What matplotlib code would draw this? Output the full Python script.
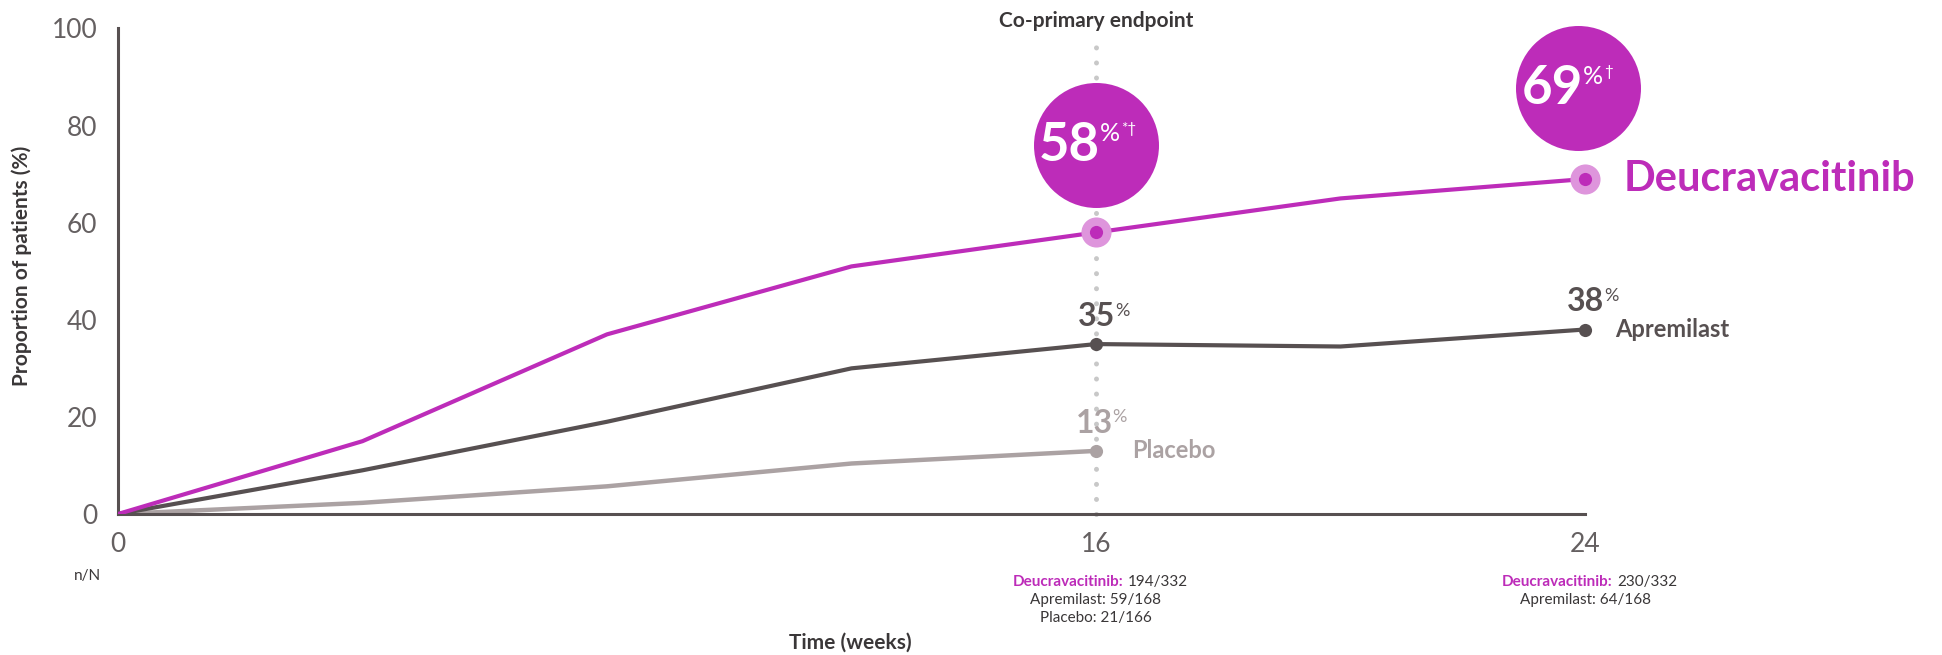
import matplotlib.pyplot as plt

plt.rcParams['font.family'] = ['Lato', 'DejaVu Sans']

# --- data ---
weeks = [0, 4, 8, 12, 16, 20, 24]
deucravacitinib = [0, 15, 37, 51, 58, 65, 69]
apremilast = [0, 9, 19, 30, 35, 34.5, 38]
placebo_weeks = [0, 4, 8, 12, 16]
placebo = [0, 2.3, 5.7, 10.4, 13]

x_ticks = [0, 16, 24]
y_ticks = [0, 20, 40, 60, 80, 100]

nn_week16 = ['194/332', 'Apremilast: 59/168', 'Placebo: 21/166']
nn_week24 = ['230/332', 'Apremilast: 64/168']

MAGENTA = '#bd2cb9'
HALO = '#de95dc'
DARK = '#575051'
LIGHT = '#aba2a3'
TEXT = '#3a3738'
DOTS = '#c8c8c8'

fig = plt.figure(figsize=(19.42, 6.55), dpi=100)
ax = fig.add_axes([118 / 1942, 1 - 514 / 655, (1585 - 118) / 1942, (514 - 28.5) / 655])

ax.set_xlim(0, 24)
ax.set_ylim(0, 100)
for side in ['top', 'right']:
    ax.spines[side].set_visible(False)
for side in ['left', 'bottom']:
    ax.spines[side].set_color(DARK)
    ax.spines[side].set_linewidth(2.2)
ax.set_xticks(x_ticks)
ax.set_yticks(y_ticks)
ax.tick_params(length=0, labelsize=19, labelcolor='#656061')
ax.tick_params(axis='x', pad=13)
ax.tick_params(axis='y', pad=15)

# co-primary endpoint guide
ax.plot([16, 16], [0, 97], color=DOTS, lw=3.6, linestyle=(0, (0.01, 3)),
        dash_capstyle='round', clip_on=False, zorder=1)
ax.text(16, 101.5, 'Co-primary endpoint', ha='center', va='center',
        fontsize=15, fontweight='bold', color=TEXT, clip_on=False)

# lines
ax.plot(placebo_weeks, placebo, color=LIGHT, lw=3.2, zorder=2, solid_capstyle='round')
ax.plot(weeks, apremilast, color=DARK, lw=3.0, zorder=3, solid_capstyle='round')
ax.plot(weeks, deucravacitinib, color=MAGENTA, lw=3.0, zorder=4, solid_capstyle='round')

# endpoint markers
ax.scatter([16, 24], [deucravacitinib[4], deucravacitinib[6]], s=470, color=HALO,
           zorder=5, clip_on=False, linewidths=0)
ax.scatter([16, 24], [deucravacitinib[4], deucravacitinib[6]], s=90, color=MAGENTA,
           zorder=6, clip_on=False, linewidths=0)
ax.scatter([16, 24], [apremilast[4], apremilast[6]], s=90, color=DARK,
           zorder=6, clip_on=False, linewidths=0)
ax.scatter([16], [placebo[4]], s=90, color=LIGHT, zorder=6, clip_on=False, linewidths=0)

# response bubbles
ax.scatter([16, 23.88], [76.0, 87.7], s=8100, color=MAGENTA, zorder=5,
           clip_on=False, linewidths=0)


def value_label(x, y, number, sup, color, dx, dy, size, sup_size, extra=None, zorder=7):
    main = ax.annotate(number, (x, y), xytext=(dx, dy), textcoords='offset points',
                       ha='right', va='center', fontsize=size, color=color,
                       fontweight='bold', zorder=zorder, annotation_clip=False)
    pct = ax.annotate(sup, xy=(1, 0.97), xycoords=main, xytext=(0, 0),
                      textcoords='offset points', ha='left', va='top',
                      fontsize=sup_size, color=color, zorder=zorder)
    if extra:
        ax.annotate(extra, xy=(1, 1), xycoords=pct, xytext=(0.5, 0),
                    textcoords='offset points', ha='left', va='top',
                    fontsize=sup_size * 0.6, color=color, zorder=zorder)


value_label(16, 76.0, '58', '%', 'white', 3, 0, 38, 18, extra='*†')
value_label(23.88, 87.7, '69', '%', 'white', 4, 0, 38, 18, extra='†')
value_label(16, apremilast[4], '35', '%', DARK, 14, 20, 23, 13)
value_label(24, apremilast[6], '38', '%', DARK, 14, 20, 23, 13)
value_label(16, placebo[4], '13', '%', LIGHT, 12, 20, 23, 13, zorder=1)

# series names
ax.annotate('Deucravacitinib', (24, deucravacitinib[6]), xytext=(28, 0),
            textcoords='offset points', ha='left', va='center', fontsize=30,
            fontweight='bold', color=MAGENTA, annotation_clip=False)
ax.annotate('Apremilast', (24, apremilast[6]), xytext=(22, 0),
            textcoords='offset points', ha='left', va='center', fontsize=17,
            fontweight='bold', color=DARK, annotation_clip=False)
ax.annotate('Placebo', (16, placebo[4]), xytext=(26, 0),
            textcoords='offset points', ha='left', va='center', fontsize=17,
            fontweight='bold', color=LIGHT, annotation_clip=False)

# n/N rows under the axis
trans = ax.get_xaxis_transform()


def nn_block(x, rows, split):
    ax.annotate('Deucravacitinib:', (x, 0), xycoords=trans, xytext=(split, -49),
                textcoords='offset points', ha='right', va='center', fontsize=11,
                fontweight='bold', color=MAGENTA, annotation_clip=False)
    ax.annotate(rows[0], (x, 0), xycoords=trans, xytext=(split + 3, -49),
                textcoords='offset points', ha='left', va='center', fontsize=11,
                color=TEXT, annotation_clip=False)
    for i, row in enumerate(rows[1:]):
        ax.annotate(row, (x, 0), xycoords=trans, xytext=(0, -62 - 13 * i),
                    textcoords='offset points', ha='center', va='center',
                    fontsize=11, color=TEXT, annotation_clip=False)


nn_block(16, nn_week16, 20)
nn_block(24, nn_week24, 20)

fig.text(87 / 1942, 1 - 576 / 655, 'n/N', ha='center', va='center', fontsize=11, color=TEXT)
fig.text(22 / 1942, 1 - 266 / 655, 'Proportion of patients (%)', rotation=90,
         ha='center', va='center', fontsize=15, fontweight='bold', color=TEXT)
fig.text(850 / 1942, 1 - 643 / 655, 'Time (weeks)', ha='center', va='center',
         fontsize=15, fontweight='bold', color=TEXT)

fig.savefig('out.png', dpi=100)
